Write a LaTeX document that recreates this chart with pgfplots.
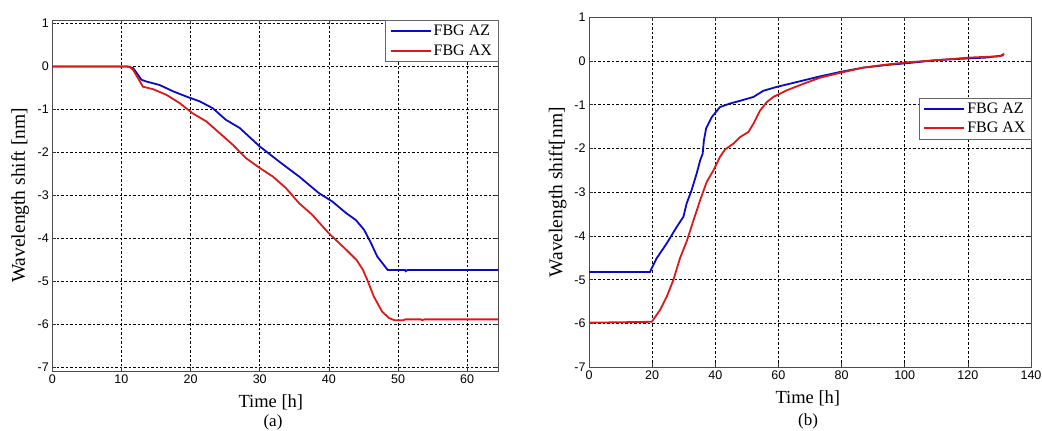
\documentclass[border=0pt]{standalone}
\usepackage{fontspec}
\setmainfont{Liberation Serif}
\newfontfamily\arialfont{Liberation Sans}
\usepackage{pgfplots}
\pgfplotsset{compat=1.18}
\definecolor{fbgblue}{RGB}{10,10,200}
\definecolor{fbgred}{RGB}{220,25,25}
\pgfplotsset{
  mstyle/.style={
    scale only axis,
    axis line style={black!70,line width=0.8pt},
    tick style={black!80,line width=0.6pt},
    major tick length=4pt,
    grid=major,
    grid style={black,dashed,line width=0.6pt,dash pattern=on 2.5pt off 2pt},
    /pgf/number format/assume math mode=true,
    ticklabel style={font=\arialfont\fontsize{12.5}{14}\selectfont},
    xlabel style={font=\fontsize{18.5}{20}\selectfont},
    ylabel style={font=\fontsize{19.5}{21}\selectfont},
    legend style={font=\fontsize{16}{18}\selectfont, draw=black!60, line width=0.8pt, inner xsep=4pt, inner ysep=3pt, row sep=3pt, cells={anchor=west}},
    legend image code/.code={\draw[#1,line width=2pt] (0pt,0pt) -- (40pt,0pt);},
    ytick={-7,-6,...,1},
  },
}
\begin{document}
\begin{tikzpicture}
\useasboundingbox (0,0) rectangle (1042pt,431pt);
% Panel (a)
\begin{axis}[mstyle,
  at={(52.3pt,60pt)}, anchor=south west,
  width=446pt, height=351pt,
  xmin=0, xmax=64.5, ymin=-7.08, ymax=1.08,
  xtick={0,10,...,60},
  xlabel={Time [h]},
  ylabel={Wavelength shift [nm]},
  xlabel style={at={(axis description cs:0.49,-0.09)},anchor=center},
  ylabel style={at={(axis description cs:-0.0724,0.5)},anchor=center,rotate=0},
  legend style={at={(1,1)},anchor=north east},
]
\addplot[fbgblue,line width=1.8pt] coordinates {
(0,0) (10.7,0) (11.1,-0.01) (11.7,-0.04) (12.9,-0.31) (13.6,-0.35) (15.5,-0.43) (17.5,-0.58) (19.4,-0.70) (21.3,-0.81) (23.2,-0.97) (25.1,-1.24) (27.1,-1.43) (30,-1.86) (32.8,-2.21) (35.7,-2.56) (38.6,-2.95) (40.5,-3.14) (42.5,-3.41) (43.9,-3.57) (45.1,-3.80) (46.1,-4.11) (47,-4.42) (48.5,-4.73) (51,-4.73) (51.1,-4.76) (51.4,-4.73) (64.5,-4.73)
};
\addlegendentry{FBG AZ}
\addplot[fbgred,line width=1.8pt] coordinates {
(0,0) (10.8,0) (11.2,-0.01) (11.7,-0.08) (13.1,-0.47) (14.6,-0.53) (16.5,-0.66) (18.4,-0.85) (20.3,-1.09) (22.3,-1.28) (24.2,-1.55) (26.1,-1.82) (28.0,-2.13) (30,-2.36) (31.9,-2.56) (33.8,-2.83) (35.7,-3.18) (37.6,-3.45) (40.0,-3.88) (42.5,-4.26) (44.0,-4.50) (44.9,-4.72) (45.6,-4.98) (46.5,-5.35) (47.7,-5.70) (48.7,-5.85) (49.5,-5.90) (50.8,-5.90) (51,-5.88) (53.3,-5.88) (53.5,-5.90) (53.8,-5.88) (64.5,-5.88)
};
\addlegendentry{FBG AX}
\end{axis}
% Panel (b)
\begin{axis}[mstyle,
  at={(589pt,63.7pt)}, anchor=south west,
  width=442pt, height=350pt,
  xmin=0, xmax=140, ymin=-7, ymax=1,
  xtick={0,20,...,140},
  xlabel={Time [h]},
  ylabel={Wavelength shift[nm]},
  xlabel style={at={(axis description cs:0.495,-0.09)},anchor=center},
  ylabel style={at={(axis description cs:-0.071,0.5)},anchor=center,rotate=0},
  legend style={at={(1.002,0.77)},anchor=north east},
]
\addplot[fbgblue,line width=1.8pt] coordinates {
(0,-4.82) (19.3,-4.82) (21.4,-4.51) (24.6,-4.17) (27.8,-3.79) (29.9,-3.56) (30.9,-3.26) (32.5,-2.95) (34.1,-2.57) (35.2,-2.27) (36,-2.12) (36.4,-1.81) (37.1,-1.54) (38.9,-1.28) (41.5,-1.05) (44.7,-0.97) (47.8,-0.91) (52.1,-0.82) (55.2,-0.68) (59.5,-0.59) (65.8,-0.48) (73.2,-0.35) (79.5,-0.25) (86.9,-0.15) (94.3,-0.09) (100.6,-0.05) (110,0.02) (117.5,0.05) (126,0.08) (131.3,0.13)
};
\addlegendentry{FBG AZ}
\addplot[fbgred,line width=1.8pt] coordinates {
(0,-5.98) (19.9,-5.96) (22.5,-5.69) (24.6,-5.39) (26.7,-5.01) (28.8,-4.51) (30.9,-4.13) (33.1,-3.64) (35.2,-3.18) (37.3,-2.76) (39.4,-2.50) (41.5,-2.19) (43.1,-2.02) (45.7,-1.89) (47.8,-1.74) (50.5,-1.62) (52.1,-1.43) (54.2,-1.13) (56.3,-0.94) (58.4,-0.82) (62.6,-0.67) (67.9,-0.52) (73.2,-0.38) (79.5,-0.27) (86.9,-0.15) (94.3,-0.08) (100.6,-0.03) (110,0.02) (120.7,0.08) (130.2,0.11) (131.5,0.17)
};
\addlegendentry{FBG AX}
\end{axis}
\node[font=\fontsize{17}{19}\selectfont,inner sep=0pt] at (273pt,9pt) {(a)};
\node[font=\fontsize{17}{19}\selectfont,inner sep=0pt] at (808pt,10pt) {(b)};
\end{tikzpicture}
\end{document}
